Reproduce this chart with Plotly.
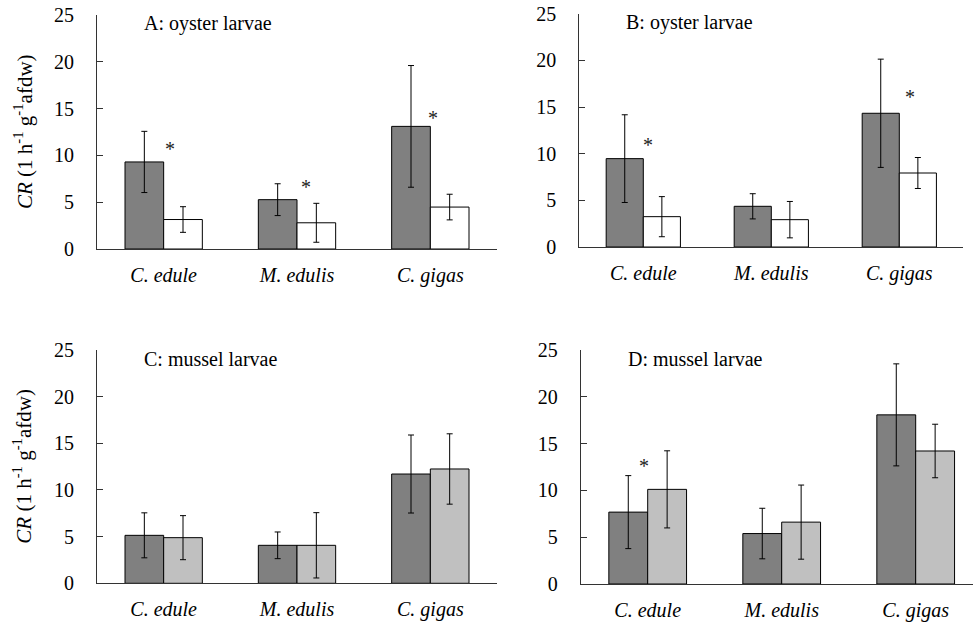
import plotly.graph_objects as go

W, H = 973, 624

categories = ["C. edule", "M. edulis", "C. gigas"]
y_ticks = [0, 5, 10, 15, 20, 25]

panel_titles = ["A: oyster larvae", "B: oyster larvae", "C: mussel larvae", "D: mussel larvae"]

# series 1 (dark grey) and series 2 (white in A/B, light grey in C/D)
A_s1 = [9.3, 5.27, 13.1]
A_s1_err = [3.27, 1.7, 6.5]
A_s2 = [3.15, 2.8, 4.48]
A_s2_err = [1.37, 2.08, 1.37]

B_s1 = [9.47, 4.36, 14.33]
B_s1_err = [4.7, 1.35, 5.8]
B_s2 = [3.25, 2.93, 7.93]
B_s2_err = [2.15, 1.95, 1.66]

C_s1 = [5.14, 4.07, 11.71]
C_s1_err = [2.41, 1.43, 4.18]
C_s2 = [4.89, 4.07, 12.25]
C_s2_err = [2.36, 3.5, 3.77]

D_s1 = [7.68, 5.39, 18.07]
D_s1_err = [3.9, 2.7, 5.45]
D_s2 = [10.11, 6.61, 14.21]
D_s2_err = [4.12, 3.96, 2.86]

# significance asterisks: category index and height
A_star_cat = [0, 1, 2]
A_star_y = [10.9, 6.8, 14.2]
B_star_cat = [0, 2]
B_star_y = [11.1, 16.3]
C_star_cat = []
C_star_y = []
D_star_cat = [0]
D_star_y = [12.8]

# small horizontal nudges of the asterisks (style only)
A_star_dx = [0.05, 0.065, 0.02]
B_star_dx = [0.04, 0.08]
C_star_dx = []
D_star_dx = [-0.03]

panels = [
    (A_s1, A_s1_err, A_s2, A_s2_err, A_star_cat, A_star_y, A_star_dx, "white"),
    (B_s1, B_s1_err, B_s2, B_s2_err, B_star_cat, B_star_y, B_star_dx, "white"),
    (C_s1, C_s1_err, C_s2, C_s2_err, C_star_cat, C_star_y, C_star_dx, "#c0c0c0"),
    (D_s1, D_s1_err, D_s2, D_s2_err, D_star_cat, D_star_y, D_star_dx, "#c0c0c0"),
]

# layout geometry in pixels (left, right, top, bottom)
boxes = [
    (97, 497, 15, 249),
    (579.3, 963.3, 13.7, 247),
    (97, 497, 350, 583.3),
    (580.7, 982.7, 350, 584),
]

FONT = "Liberation Serif"
FS = 20

fig = go.Figure()
layout = dict(
    template="none",
    width=W, height=H, autosize=False,
    margin=dict(l=0, r=0, t=0, b=0, pad=0),
    paper_bgcolor="white", plot_bgcolor="white",
    showlegend=False,
    barmode="group", bargap=0.42, bargroupgap=0,
    font=dict(family=FONT, size=FS, color="black"),
)
annotations = []
xpos = list(range(len(categories)))

for i, (s1, e1, s2, e2, sc, sy, sdx, c2) in enumerate(panels):
    n = "" if i == 0 else str(i + 1)
    xa, ya = "x" + n, "y" + n
    fig.add_trace(go.Bar(
        x=xpos, y=s1, xaxis=xa, yaxis=ya, offsetgroup="a",
        marker=dict(color="#808080", line=dict(color="black", width=1)),
        error_y=dict(type="data", array=e1, visible=True, color="black", thickness=1, width=3),
    ))
    fig.add_trace(go.Bar(
        x=xpos, y=s2, xaxis=xa, yaxis=ya, offsetgroup="b",
        marker=dict(color=c2, line=dict(color="black", width=1)),
        error_y=dict(type="data", array=e2, visible=True, color="black", thickness=1, width=3),
    ))
    l, r, t, b = boxes[i]
    xmax = min(r, W)
    xr1 = -0.5 + 3 * (xmax - l) / (r - l)
    layout["xaxis" + n] = dict(
        domain=[l / W, xmax / W], anchor=ya, range=[-0.5, xr1],
        tickvals=xpos, ticktext=["<i>%s</i>" % c for c in categories],
        showline=True, linecolor="#333333", linewidth=1, ticks="",
        showgrid=False, zeroline=False, ticklabelstandoff=8, automargin=False,
        tickfont=dict(family=FONT, size=FS, color="black"),
    )
    layout["yaxis" + n] = dict(
        domain=[1 - b / H, 1 - t / H], anchor=xa, range=[0, 25],
        tickvals=y_ticks, showline=True, linecolor="#333333", linewidth=1,
        ticks="inside", ticklen=6, tickcolor="#333333", tickwidth=1,
        showgrid=False, zeroline=False, ticklabelstandoff=18, automargin=False,
        tickfont=dict(family=FONT, size=FS, color="black"),
    )
    annotations.append(dict(
        text=panel_titles[i], xref="paper", yref="paper",
        x=(l + 45) / W, y=1 - (t + 9) / H, xanchor="left", yanchor="middle",
        showarrow=False, font=dict(family=FONT, size=FS, color="black"),
    ))
    for cx, cy, dx in zip(sc, sy, sdx):
        annotations.append(dict(
            text="*", xref=xa, yref=ya, x=cx + dx, y=cy,
            xanchor="center", yanchor="middle", yshift=-2,
            showarrow=False, font=dict(family=FONT, size=FS, color="#222222"),
        ))
    if i in (0, 2):
        annotations.append(dict(
            text="<i>CR</i> (1 h<sup>-1</sup> g<sup>-1</sup>afdw)",
            xref="paper", yref="paper", x=23 / W, y=1 - ((t + b) / 2) / H,
            xanchor="center", yanchor="middle", textangle=-90,
            showarrow=False, font=dict(family=FONT, size=21, color="black"),
        ))

layout["annotations"] = annotations
fig.update_layout(**layout)
fig.write_html(
    "out.html",
    config={"displayModeBar": False},
    post_script="document.body.style.margin='0';document.body.style.overflow='hidden';",
)
